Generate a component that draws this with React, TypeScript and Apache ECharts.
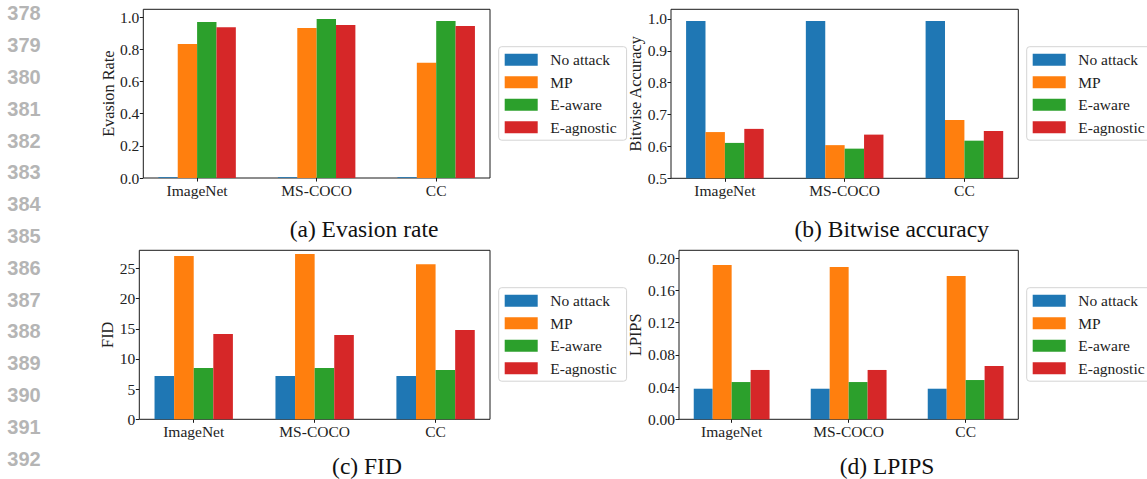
import React, { useEffect, useRef } from 'react';
import * as echarts from 'echarts';

const categories = ['ImageNet', 'MS-COCO', 'CC'];
const seriesNames = ['No attack', 'MP', 'E-aware', 'E-agnostic'];
const colors = ['#1f77b4', '#ff7f0e', '#2ca02c', '#d62728'];

// (a) Evasion rate
const evasionNoAttack = [0.005, 0.005, 0.005];
const evasionMP = [0.834, 0.933, 0.717];
const evasionAware = [0.971, 0.989, 0.977];
const evasionAgnostic = [0.939, 0.952, 0.946];

// (b) Bitwise accuracy
const bitwiseNoAttack = [0.993, 0.993, 0.993];
const bitwiseMP = [0.645, 0.604, 0.683];
const bitwiseAware = [0.611, 0.593, 0.618];
const bitwiseAgnostic = [0.655, 0.637, 0.648];

// (c) FID
const fidNoAttack = [7.17, 7.17, 7.17];
const fidMP = [27.05, 27.37, 25.7];
const fidAware = [8.5, 8.5, 8.16];
const fidAgnostic = [14.12, 13.95, 14.8];

// (d) LPIPS
const lpipsNoAttack = [0.038, 0.038, 0.038];
const lpipsMP = [0.1917, 0.1893, 0.178];
const lpipsAware = [0.0463, 0.0463, 0.0488];
const lpipsAgnostic = [0.0613, 0.0613, 0.0663];

// tick labels
const evasionTicks = [0, 0.2, 0.4, 0.6, 0.8, 1.0];
const bitwiseTicks = [0.5, 0.6, 0.7, 0.8, 0.9, 1.0];
const fidTicks = [0, 5, 10, 15, 20, 25];
const lpipsTicks = [0, 0.04, 0.08, 0.12, 0.16, 0.2];

const yNames = ['Evasion Rate', 'Bitwise Accuracy', 'FID', 'LPIPS'];
const captions = ['(a) Evasion rate', '(b) Bitwise accuracy', '(c) FID', '(d) LPIPS'];
const lineNumbers = ['378', '379', '380', '381', '382', '383', '384', '385', '386', '387', '388', '389', '390', '391', '392'];

const SERIF = "'Liberation Serif', 'Times New Roman', serif";

const panels = [
  { values: [evasionNoAttack, evasionMP, evasionAware, evasionAgnostic], ticks: evasionTicks, decimals: 1, yMin: 0, yMax: 1.05 },
  { values: [bitwiseNoAttack, bitwiseMP, bitwiseAware, bitwiseAgnostic], ticks: bitwiseTicks, decimals: 1, yMin: 0.5, yMax: 1.03 },
  { values: [fidNoAttack, fidMP, fidAware, fidAgnostic], ticks: fidTicks, decimals: 0, yMin: 0, yMax: 28 },
  { values: [lpipsNoAttack, lpipsMP, lpipsAware, lpipsAgnostic], ticks: lpipsTicks, decimals: 2, yMin: 0, yMax: 0.21 },
];

// layout (pixels)
const layout = [
  { left: 143.3, top: 9.3, width: 346.7, height: 168.7, nameGap: 26, legendLeft: 498.7, legendTop: 46.7, capX: 364, capY: 229 },
  { left: 671, top: 9.3, width: 347.3, height: 169, nameGap: 25.5, legendLeft: 1026.7, legendTop: 46.7, capX: 891.7, capY: 229 },
  { left: 139.3, top: 250.3, width: 350.7, height: 169, nameGap: 22, legendLeft: 498.7, legendTop: 287.7, capX: 367, capY: 466 },
  { left: 679, top: 250.3, width: 339.3, height: 169, nameGap: 34.5, legendLeft: 1026.7, legendTop: 287.7, capX: 887, capY: 466 },
];

const FRAME = '#1a1a1a';

export default function App() {
  const ref = useRef<HTMLDivElement>(null);
  useEffect(() => {
    document.body.style.margin = '0';
    if (!ref.current) return;
    const chart = echarts.init(ref.current, null, { renderer: 'svg' });

    const grids = layout.map((l) => ({
      left: l.left, top: l.top, width: l.width, height: l.height,
      show: true, borderColor: FRAME, borderWidth: 1, backgroundColor: 'transparent',
    }));

    const xAxes = layout.map((_, k) => ({
      type: 'value', gridIndex: k, min: -0.45, max: 2.45,
      axisLine: { show: false, onZero: false },
      splitLine: { show: false },
      axisTick: { show: true, customValues: [0, 1, 2], length: 3.5, lineStyle: { color: FRAME, width: 1 } },
      axisLabel: {
        customValues: [0, 1, 2],
        formatter: (v: number) => categories[Math.round(v)] ?? '',
        fontFamily: SERIF, fontSize: 15.5, color: '#222', margin: 4,
      },
    }));

    const yAxes = panels.map((p, k) => ({
      type: 'value', gridIndex: k, min: p.yMin, max: p.yMax,
      name: yNames[k], nameLocation: 'middle', nameGap: layout[k].nameGap,
      nameTextStyle: { fontFamily: SERIF, fontSize: 16.3, color: '#222' },
      axisLine: { show: false, onZero: false },
      splitLine: { show: false },
      axisTick: { show: true, customValues: p.ticks, length: 3.5, lineStyle: { color: FRAME, width: 1 } },
      axisLabel: {
        customValues: p.ticks,
        formatter: (v: number) => v.toFixed(p.decimals),
        fontFamily: SERIF, fontSize: 15.5, color: '#222', margin: 4,
      },
    }));

    const series: any[] = [];
    panels.forEach((p, k) => {
      p.values.forEach((vals, s) => {
        series.push({
          type: 'bar', name: seriesNames[s], xAxisIndex: k, yAxisIndex: k,
          data: vals.map((v, i) => [i, v]),
          barWidth: '16.2%', barGap: '0%',
          itemStyle: { color: colors[s] },
          clip: true,
        });
      });
    });

    const legends = layout.map((l) => ({
      orient: 'vertical', left: l.legendLeft, top: l.legendTop,
      data: seriesNames, icon: 'rect', itemWidth: 33, itemHeight: 12, itemGap: 6.5,
      padding: [5, 10, 5, 6],
      borderColor: '#d4d4d4', borderWidth: 1, borderRadius: 3, backgroundColor: '#fff',
      textStyle: { fontFamily: SERIF, fontSize: 15.5, color: '#222', lineHeight: 16, padding: [0, 0, 0, 7.6] },
      selectedMode: false,
    }));

    const graphics: any[] = [];
    layout.forEach((l, k) => {
      graphics.push({
        type: 'text', x: l.capX, y: l.capY,
        style: { text: captions[k], font: `23.5px ${SERIF}`, fill: '#111', align: 'center', verticalAlign: 'middle' },
      });
    });
    lineNumbers.forEach((n, i) => {
      graphics.push({
        type: 'text', x: 7.3, y: 13.3 + i * 31.8,
        style: { text: n, font: `bold 20px 'Liberation Sans', Arial, sans-serif`, fill: '#b5b5b5', align: 'left', verticalAlign: 'middle' },
      });
    });

    chart.setOption({
      animation: false,
      grid: grids,
      xAxis: xAxes,
      yAxis: yAxes,
      legend: legends,
      series,
      graphic: graphics,
    } as any);
    return () => chart.dispose();
  }, []);
  return <div ref={ref} style={{ position: 'absolute', left: 0, top: 0, width: 1147, height: 479 }} />;
}
